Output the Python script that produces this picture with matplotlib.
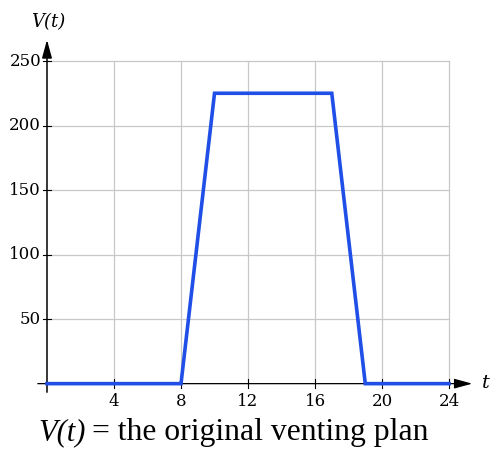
import matplotlib
matplotlib.use("Agg")
import matplotlib.pyplot as plt

t_vals = [0, 8, 10, 17, 19, 24]
v_vals = [0, 0, 225, 225, 0, 0]
x_ticks = [4, 8, 12, 16, 20, 24]
y_ticks = [50, 100, 150, 200, 250]

W, H = 491, 449
fig = plt.figure(figsize=(W/100, H/100), dpi=100)
x0, x1 = -0.716, 25.55
y0, y1 = -8.8, 268.6
ax = fig.add_axes([35/W, (H-395)/H, 440/W, (395-37)/H])
ax.set_xlim(x0, x1)
ax.set_ylim(y0, y1)
ax.axis('off')

grid_c = '#c8c8c8'
for xt in x_ticks:
    ax.plot([xt, xt], [0, 250], color=grid_c, lw=0.9, zorder=1)
for yt in y_ticks:
    ax.plot([0, 24], [yt, yt], color=grid_c, lw=0.9, zorder=1)

# axes with arrows
ax.annotate('', xy=(x1, 0), xytext=(x0, 0),
            arrowprops=dict(arrowstyle='-|>,head_length=1.1,head_width=0.3', color='black', lw=0.9), zorder=3)
ax.annotate('', xy=(0, y1), xytext=(0, y0),
            arrowprops=dict(arrowstyle='-|>,head_length=1.1,head_width=0.3', color='black', lw=1.1), zorder=3)

# ticks
for xt in x_ticks:
    ax.plot([xt, xt], [-3.5, 3.5], color='black', lw=0.8, zorder=3)
    ax.text(xt, -7.5, str(xt), ha='center', va='top', fontsize=12,
            family='DejaVu Serif', clip_on=False)
for yt in y_ticks:
    ax.plot([-0.25, 0.25], [yt, yt], color='black', lw=0.8, zorder=3)
    ax.text(-0.35, yt, str(yt), ha='right', va='center', fontsize=12,
            family='DejaVu Serif', clip_on=False)

ax.plot(t_vals, v_vals, color='#1f4fe6', lw=2.6, zorder=4, solid_joinstyle='miter')

fig.text(48/W, 1-22/H, 'V(t)', ha='center', va='center', fontsize=13,
         family='DejaVu Serif', style='italic')
fig.text(486/W, 1-383/H, 't', ha='center', va='center', fontsize=14,
         family='DejaVu Serif', style='italic')

t1 = fig.text(38/W, 1-440/H, 'V(t)', ha='left', va='baseline', fontsize=22,
              family='Liberation Serif', style='italic')
fig.canvas.draw()
bb = t1.get_window_extent()
fig.text((bb.x1 + 7)/W, 1-440/H, '= the original venting plan', ha='left', va='baseline',
         fontsize=22.8, family='Liberation Serif')

fig.savefig('out.png', dpi=100)
